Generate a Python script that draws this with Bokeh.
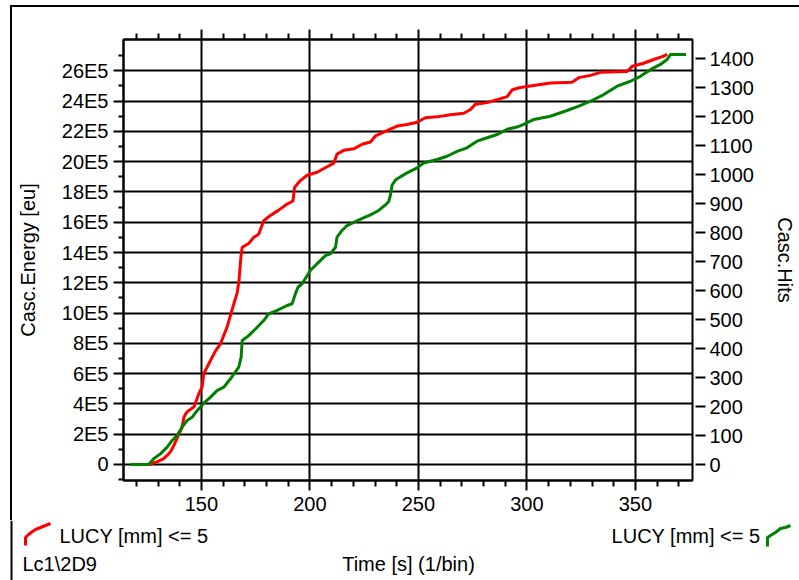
from bokeh.plotting import figure
from bokeh.models import (LinearAxis, Range1d, FixedTicker, CustomJSTickFormatter, Span)
from bokeh.core.properties import value
from bokeh.embed import file_html
from bokeh.resources import INLINE

# ---- data ----
red_t = [125.5, 126.5, 128, 130, 132.6, 134.9, 136, 137.3, 139, 141.1, 141.9, 143, 144.2, 146, 146.5,
         148.8, 150.3, 151.1, 153.4, 156.5, 158.8, 161.8, 164.1, 166.4, 167.3, 167.8, 168.2, 168.8,
         171.8, 174.1, 176.4, 178.7, 181.8, 185.6, 189.5, 192.2, 192.9, 195.6, 198.7, 203.3, 207.1,
         211.0, 212.5, 215.6, 220.2, 224.1, 227.9, 230.2, 232.5, 236.3, 240.2, 244.8, 249.4, 253.2,
         258.6, 264.7, 270.9, 274.0, 276.3, 281.7, 286.3, 290.9, 293.2, 297.0, 301.6, 310.8, 320.8,
         323.9, 329.3, 333.9, 346.2, 348.5, 353.8, 358.4, 363.0, 364.6]
red_e5 = [0, 0, 0.1, 0.2, 0.38, 0.7, 0.9, 1.25, 1.8, 2.47, 3.1, 3.4, 3.57, 3.75, 3.78,
          4.67, 5.1, 6.0, 6.65, 7.5, 7.97, 9.07, 10.2, 11.3, 12.1, 13.0, 13.7, 14.35,
          14.6, 15.0, 15.2, 16.1, 16.45, 16.8, 17.2, 17.4, 18.3, 18.75, 19.1, 19.3, 19.6,
          19.9, 20.5, 20.75, 20.85, 21.15, 21.3, 21.7, 21.85, 22.1, 22.35, 22.45, 22.6, 22.9,
          22.96, 23.1, 23.2, 23.45, 23.8, 23.9, 24.1, 24.3, 24.75, 24.9, 25.0, 25.2, 25.25,
          25.55, 25.7, 25.9, 25.95, 26.3, 26.5, 26.75, 26.97, 27.1]
red_energy = [v * 1e5 for v in red_e5]

green_t = [117.3, 125.7, 128, 131.1, 134.2, 136.5, 138.8, 141.1, 143.4, 145.7, 148, 151.1, 154.1,
           157.2, 160.3, 163.4, 167.2, 168.3, 168.8, 171.8, 174.9, 178.7, 181, 184.9, 189.5, 191.8,
           193.3, 194.5, 196.4, 200.2, 202.5, 204.8, 207.1, 209.4, 211.8, 212.5, 214.8, 217.1,
           220.2, 224.1, 227.9, 231.7, 234.8, 236.3, 237.1, 237.9, 239.4, 241.7, 244.8, 249.4,
           252.4, 258.6, 263.2, 267.8, 272.4, 277.0, 281.7, 286.3, 290.9, 296.2, 298.5, 303.2,
           310.8, 318.5, 323.9, 329.3, 335.4, 341.6, 347.7, 352.3, 356.9, 361.5, 364.6, 366.1, 373.3]
green_hits = [0, 0, 20, 37, 60, 83, 100, 129, 152, 163, 186, 212, 232,
              255, 267, 296, 336, 370, 428, 445, 468, 497, 520, 532, 549, 555,
              589, 612, 624, 670, 687, 704, 721, 727, 750, 785, 808, 825,
              836, 850, 862, 877, 896, 908, 930, 965, 982, 993, 1007, 1024,
              1041, 1053, 1064, 1081, 1093, 1116, 1128, 1139, 1157, 1167, 1174, 1191,
              1202, 1222, 1237, 1254, 1277, 1306, 1323, 1340, 1363, 1381, 1398, 1415, 1415]

x_major = [150, 200, 250, 300, 350]
x_minor = [120, 130, 140, 160, 170, 180, 190, 210, 220, 230, 240, 260, 270, 280, 290,
           310, 320, 330, 340, 360, 370]
left_major = [k * 2e5 for k in range(0, 14)]
left_minor = [k * 1e5 for k in range(-1, 28, 2)]
right_major = [k * 100 for k in range(0, 15)]

series_names = ["LUCY [mm] <= 5", "LUCY [mm] <= 5"]
series_colors = ["#ff0000", "#008000"]
x_title = "Time [s] (1/bin)"
left_title = "Casc.Energy [eu]"
right_title = "Casc.Hits"
source_tag = "Lc1\\2D9"

FONT = "Liberation Sans"
FS = "20px"

# ---------------- main chart ----------------
p = figure(width=799, height=520, output_backend="svg", toolbar_location=None,
           x_range=Range1d(114.1, 376.3), y_range=Range1d(-1.06e5, 28.07e5),
           x_axis_location=None, y_axis_location=None,
           min_border_left=123, min_border_right=107, min_border_top=39, min_border_bottom=40,
           background_fill_color="white", border_fill_color=None)
p.styles = {
    "background-color": "white",
    "background-image": "linear-gradient(#000,#000), linear-gradient(#000,#000)",
    "background-size": "2px 100%, 100% 2px",
    "background-position": "10px 5px, 10px 5px",
    "background-repeat": "no-repeat",
}
p.outline_line_color = "black"
p.outline_line_width = 2
p.extra_y_ranges = {"hits": Range1d(-55, 1467)}

def style_axis(ax):
    ax.major_label_text_font = FONT
    ax.major_label_text_font_size = FS
    ax.major_label_text_color = "black"
    ax.axis_label_text_font = FONT
    ax.axis_label_text_font_size = FS
    ax.axis_label_text_font_style = "normal"
    ax.axis_label_text_color = "black"
    ax.axis_line_color = "black"
    ax.axis_line_width = 2
    ax.major_tick_line_color = "black"
    ax.minor_tick_line_color = "black"
    ax.major_tick_line_width = 2
    ax.minor_tick_line_width = 2

xt = FixedTicker(ticks=x_major, minor_ticks=x_minor)
bottom = LinearAxis(ticker=xt)
style_axis(bottom)
bottom.major_tick_in = 0
bottom.major_tick_out = 10
bottom.minor_tick_in = 0
bottom.minor_tick_out = 6
bottom.major_label_standoff = 6
p.add_layout(bottom, "below")

top = LinearAxis(ticker=xt, formatter=CustomJSTickFormatter(code="return '';"))
style_axis(top)
top.major_tick_in = 0
top.major_tick_out = 10
top.minor_tick_in = 0
top.minor_tick_out = 6
top.major_label_text_color = None
top.major_label_standoff = 0
p.add_layout(top, "above")

lt = FixedTicker(ticks=left_major, minor_ticks=left_minor)
left = LinearAxis(ticker=lt, axis_label=left_title,
                  formatter=CustomJSTickFormatter(code="return tick == 0 ? '0' : Math.round(tick/1e5) + 'E5';"))
style_axis(left)
left.major_tick_in = 0
left.major_tick_out = 10
left.minor_tick_in = 0
left.minor_tick_out = 5
left.major_label_standoff = 5
left.axis_label_standoff = 20
p.add_layout(left, "left")

rt = FixedTicker(ticks=right_major, minor_ticks=[])
right = LinearAxis(y_range_name="hits", ticker=rt, axis_label=right_title)
style_axis(right)
right.axis_line_color = None
right.major_tick_in = -3
right.major_tick_out = 13
right.minor_tick_out = 0
right.major_label_standoff = 4
right.axis_label_standoff = 17
p.add_layout(right, "right")

p.xgrid.ticker = xt
p.ygrid.ticker = lt
for g in (p.xgrid, p.ygrid):
    g.grid_line_color = "black"
    g.grid_line_width = 2

p.line(red_t, red_energy, line_color=series_colors[0], line_width=3)
p.line(green_t, green_hits, line_color=series_colors[1], line_width=3, y_range_name="hits")

# ---------------- footer (legend + titles), separate root ----------------
f = figure(width=799, height=60, output_backend="svg", toolbar_location=None,
           x_range=Range1d(0, 799), y_range=Range1d(580, 520),
           x_axis_location=None, y_axis_location=None,
           min_border=0, min_border_left=0, min_border_right=0, min_border_top=0, min_border_bottom=0,
           background_fill_color="white", border_fill_color="white")
f.outline_line_color = None
f.grid.visible = False
f.add_layout(Span(location=11, dimension="height", line_color="black", line_width=2))

# legend icons (small stair glyphs)
f.line([25, 25, 28, 32, 35, 40, 45, 50], [545, 537, 534, 531, 529, 527, 525, 523],
       line_color=series_colors[0], line_width=3)
f.line([767, 767, 770, 775, 780, 785, 790], [546, 537, 535, 532, 528, 527, 525],
       line_color=series_colors[1], line_width=3)

f.text(x=[59], y=[535], text=[series_names[0]], text_font=value(FONT), text_font_size=value(FS),
       text_color="black", text_align="left", text_baseline="middle")
f.text(x=[760], y=[535], text=[series_names[1]], text_font=value(FONT), text_font_size=value(FS),
       text_color="black", text_align="right", text_baseline="middle")
f.text(x=[22], y=[563], text=[source_tag], text_font=value(FONT), text_font_size=value(FS),
       text_color="black", text_align="left", text_baseline="middle")
f.text(x=[408], y=[563], text=[x_title], text_font=value(FONT), text_font_size=value(FS),
       text_color="black", text_align="center", text_baseline="middle")

open("out.html", "w").write(file_html([p, f], INLINE))
